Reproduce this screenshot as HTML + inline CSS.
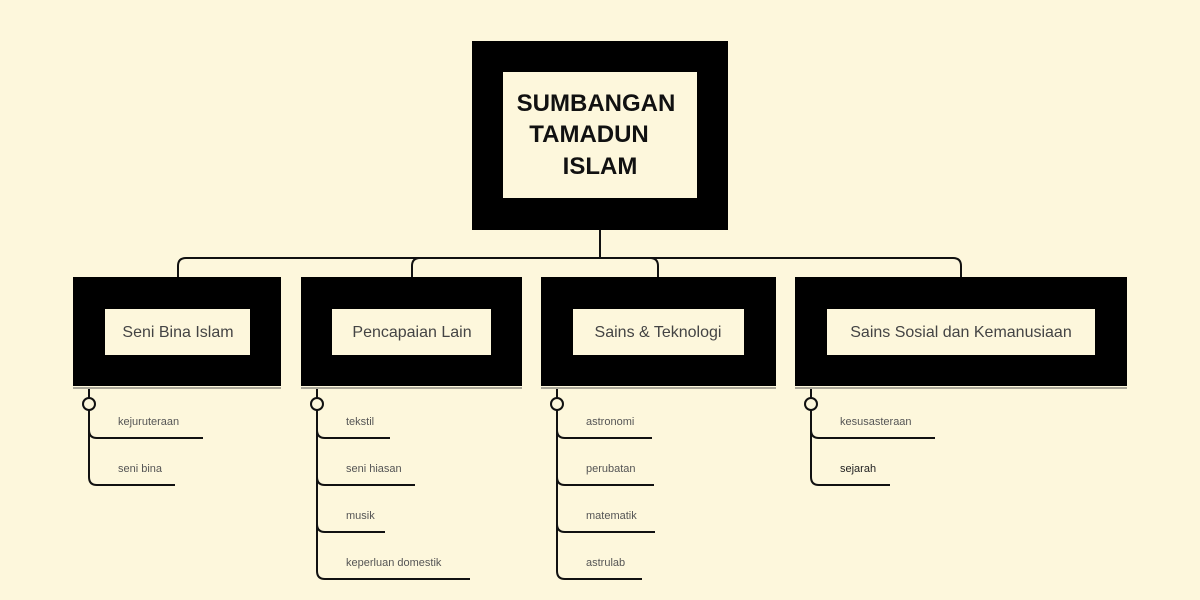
<!DOCTYPE html>
<html><head><meta charset="utf-8"><style>
html,body{margin:0;padding:0;background:#fdf7dc;}
svg{display:block}
text{font-family:"Liberation Sans",sans-serif;}
</style></head><body>
<svg width="1200" height="600" viewBox="0 0 1200 600" xmlns="http://www.w3.org/2000/svg">
<rect width="1200" height="600" fill="#fdf7dc"/>
<!-- connectors -->
<g fill="none" stroke="#111" stroke-width="2">
<path d="M600 230 V258"/>
<path d="M178 277 V266 Q178 258 186 258 H953 Q961 258 961 266 V277"/>
<path d="M412 277 V266 Q412 258 420 258 H650 Q658 258 658 266 V277"/>
</g>
<!-- central -->
<rect x="472" y="41" width="256" height="189" fill="#000"/>
<rect x="503" y="72" width="194" height="126" fill="#fdf7dc"/>
<g font-size="24" font-weight="bold" fill="#111" text-anchor="middle">
<text x="596" y="111">SUMBANGAN</text>
<text x="589" y="142">TAMADUN</text>
<text x="600" y="174">ISLAM</text>
</g>
<!-- topic boxes -->
<g>
<rect x="73" y="277" width="208" height="109" fill="#000"/>
<rect x="105" y="309" width="145" height="46" fill="#fdf7dc"/>
<rect x="301" y="277" width="221" height="109" fill="#000"/>
<rect x="332" y="309" width="159" height="46" fill="#fdf7dc"/>
<rect x="541" y="277" width="235" height="109" fill="#000"/>
<rect x="573" y="309" width="171" height="46" fill="#fdf7dc"/>
<rect x="795" y="277" width="332" height="109" fill="#000"/>
<rect x="827" y="309" width="268" height="46" fill="#fdf7dc"/>
</g>
<g stroke="#555" stroke-width="1">
<path d="M73 388 H281 M301 388 H522 M541 388 H776 M795 388 H1127"/>
</g>
<g font-size="16" fill="#444" text-anchor="middle">
<text x="178" y="337">Seni Bina Islam</text>
<text x="412" y="337">Pencapaian Lain</text>
<text x="658" y="337">Sains &amp; Teknologi</text>
<text x="961" y="337">Sains Sosial dan Kemanusiaan</text>
</g>
<!-- subtopics -->
<g fill="none" stroke="#111" stroke-width="2">
<path d="M89 389 V398"/><path d="M89 410 V477 Q89 485 97 485 H175"/><path d="M89 430 Q89 438 97 438 H203"/>
<path d="M317 389 V398"/><path d="M317 410 V571 Q317 579 325 579 H470"/><path d="M317 430 Q317 438 325 438 H390"/><path d="M317 477 Q317 485 325 485 H415"/><path d="M317 524 Q317 532 325 532 H385"/>
<path d="M557 389 V398"/><path d="M557 410 V571 Q557 579 565 579 H642"/><path d="M557 430 Q557 438 565 438 H652"/><path d="M557 477 Q557 485 565 485 H654"/><path d="M557 524 Q557 532 565 532 H655"/>
<path d="M811 389 V398"/><path d="M811 410 V477 Q811 485 819 485 H890"/><path d="M811 430 Q811 438 819 438 H935"/>
</g>
<g fill="#fdf7dc" stroke="#111" stroke-width="2">
<circle cx="89" cy="404" r="6"/><circle cx="317" cy="404" r="6"/><circle cx="557" cy="404" r="6"/><circle cx="811" cy="404" r="6"/>
</g>
<g font-size="11" fill="#555">
<text x="118" y="425">kejuruteraan</text><text x="118" y="472">seni bina</text>
<text x="346" y="425">tekstil</text><text x="346" y="472">seni hiasan</text><text x="346" y="519">musik</text><text x="346" y="566">keperluan domestik</text>
<text x="586" y="425">astronomi</text><text x="586" y="472">perubatan</text><text x="586" y="519">matematik</text><text x="586" y="566">astrulab</text>
<text x="840" y="425">kesusasteraan</text><text x="840" y="472" fill="#222">sejarah</text>
</g>
</svg>
</body></html>
